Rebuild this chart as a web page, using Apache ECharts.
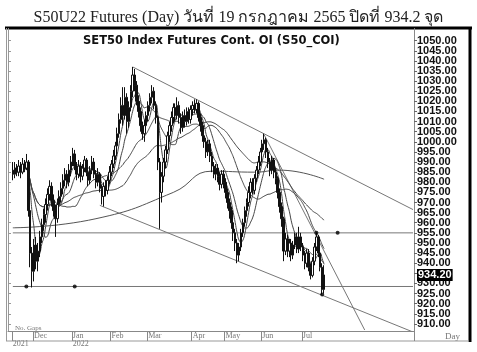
<!DOCTYPE html>
<html>
<head>
<meta charset="utf-8">
<script src="https://cdn.jsdelivr.net/npm/echarts@6/dist/echarts.min.js"></script>
<style>
html, body { margin: 0; padding: 0; background: #fff; }
#chart_main { width: 477px; height: 352px; }
</style>
</head>
<body>
<div id="chart_main"></div>
<script>
// trading months shown (first one is the partial Nov 2021)
var monthNames = ['', 'Dec', 'Jan', 'Feb', 'Mar', 'Apr', 'May', 'Jun', 'Jul'];
var monthYears = ['2021', '', '2022', '', '', '', '', '', ''];
var monthDays = [11, 20, 20, 19, 23, 17, 19, 21, 12];
var leadSlots = 2;
var tailSlots = 46;

// [open, close, low, high]
var ohlc = [
    [986,984,981,990],[984,987,982,990],[987,985,983,989],[985,988,983,991],[988,985,982,990],
    [985,989,984,992],[989,987,985,991],[987,990,986,994],[990,966,963,991],[966,945,938,968],
    [945,936,928,948],
    [936,949,931,952],[949,941,937,953],[941,946,936,950],[946,953,943,956],[953,959,950,962],
    [959,964,956,967],[964,969,960,972],[969,974,966,977],[974,978,971,981],[978,971,968,980],
    [971,966,963,974],[966,962,953,969],[962,969,960,972],[969,973,966,976],[973,977,970,980],
    [977,981,974,984],[981,984,978,987],[984,980,977,986],[980,986,978,989],[986,990,983,993],
    [990,994,988,997],[994,988,986,996],[988,984,981,990],[984,988,982,991],[988,983,980,990],
    [983,987,981,989],[987,991,985,993],[991,985,983,992],[985,981,978,987],[981,986,979,988],
    [986,990,984,993],[990,984,982,992],[984,980,977,986],[980,984,978,987],[984,977,975,985],
    [977,973,969,979],[973,978,968,980],[978,976,973,981],[976,981,974,983],[981,985,979,988],
    [985,989,983,991],[989,993,987,996],[993,998,991,1000],[998,1004,996,1007],[1004,1011,1002,1014],
    [1011,1018,1009,1022],[1018,1013,1008,1027],[1013,1022,1011,1027],[1022,1010,1004,1024],[1010,1017,1007,1020],
    [1017,1025,1015,1028],[1025,1033,1022,1037],[1033,1028,1025,1036],[1028,1020,1018,1030],[1020,1015,1012,1023],
    [1015,1008,1005,1017],[1008,1004,1001,1010],[1004,1008,1000,1011],[1008,1013,1006,1015],
    [1013,1018,1010,1020],[1018,1022,1015,1024],[1022,1025,1019,1028],[1025,1018,1016,1027],[1018,1012,1009,1020],
    [1012,990,986,1013],[990,975,957,992],[975,983,970,985],[983,990,980,992],[990,996,987,998],
    [996,1003,994,1005],[1003,1008,1000,1010],[1008,1012,1005,1015],[1012,1017,1009,1019],[1017,1013,1010,1019],
    [1013,1018,1011,1022],[1018,1012,1009,1020],[1012,1007,1004,1014],[1007,1013,1005,1015],[1013,1010,1007,1016],
    [1010,1015,1008,1017],[1015,1011,1009,1017],[1011,1016,1009,1018],
    [1016,1018,1013,1020],[1018,1016,1014,1021],[1016,1019,1014,1021],[1019,1012,1010,1020],[1012,1008,1005,1014],
    [1008,1003,1000,1010],[1003,1000,997,1006],[1000,995,992,1002],[995,999,993,1001],[999,993,990,1001],
    [993,988,985,995],[988,984,982,990],[984,987,981,989],[987,983,980,989],[983,979,976,985],
    [979,984,977,986],[984,980,977,986],
    [980,975,972,982],[975,970,967,977],[970,966,962,972],[966,960,957,968],[960,955,951,962],
    [955,950,946,957],[950,944,940,952],[944,948,941,950],[948,955,946,957],[955,960,953,962],
    [960,966,958,968],[966,970,963,972],[970,975,968,978],[975,980,972,982],[980,976,974,982],
    [976,982,974,984],[982,986,980,988],[986,990,984,993],[990,995,988,997],
    [995,999,993,1001],[999,1001,996,1004],[1001,995,992,1002],[995,990,987,997],[990,986,983,992],
    [986,991,984,993],[991,985,982,992],[985,982,979,987],[982,975,972,983],[975,968,965,977],
    [968,962,958,970],[962,946,941,963],[946,952,944,955],[952,946,943,954],[946,950,943,952],
    [950,944,941,952],[944,949,942,951],[949,953,947,955],[953,947,945,955],[947,953,945,958],
    [953,948,946,955],
    [948,944,941,950],[944,940,937,946],[940,945,938,947],[945,938,936,947],[938,934,932,940],
    [934,941,933,943],[941,948,939,950],[948,953,946,955],[953,945,943,954],[945,938,936,947],
    [938,927,924.5,940],[927,934.2,925,939]
];

var maPeriods = [5, 10, 25, 50];
// long average: [slot, value]
var longMa = [[2,957.5],[45,962],[85,975],[105,985.5],[127,985],[140,986],[163,981.5]];

// hand drawn lines: [[slot, value], [slot, value]]
var trendLines = [
    [[64,1037],[209,966.5]],
    [[47,968.6],[209,906]],
    [[132,1003.5],[184,907]],
    [[2,955],[209,955]],
    [[2,928.5],[209,928.5]]
];
var markDots = [[9,928.5],[34,928.5],[159,955],[170,955],[162,924.5]];

var tickValues = [910,915,920,925,930,935,940,945,950,955,960,965,970,975,980,985,990,995,1000,1005,1010,1015,1020,1025,1030,1035,1040,1045,1050];
// labels split in two sets so that neighbours never clash
var labelsTens = [910,920,930,940,950,960,970,980,990,1000,1010,1020,1030,1040,1050];
var labelsFives = [915,925,945,955,965,975,985,995,1005,1015,1025,1035,1045];
var lastClose = 934.2;

var categories = [];
var axisNames = [];
var i, m, d;
for (i = 0; i < leadSlots; i++) { categories.push('p' + i); axisNames.push(''); }
for (m = 0; m < monthDays.length; m++) {
    for (d = 0; d < monthDays[m]; d++) {
        categories.push('m' + m + 'd' + d);
        axisNames.push(d == 0 ? (monthNames[m] + '\n' + monthYears[m]) : '');
    }
}
for (i = 0; i < tailSlots; i++) { categories.push('f' + i); axisNames.push(''); }

var candleData = [];
for (i = 0; i < leadSlots; i++) candleData.push('-');
ohlc.forEach(function (r) { candleData.push(r); });

function movingAverage(n) {
    var out = [];
    for (var k = 0; k < leadSlots; k++) out.push('-');
    for (var j = 0; j < ohlc.length; j++) {
        var s = 0, c = 0;
        for (var q = Math.max(0, j - n + 1); q <= j; q++) { s += ohlc[q][1]; c++; }
        out.push(+(s / c).toFixed(2));
    }
    return out;
}

var series = [{
    type: 'candlestick',
    data: candleData,
    barWidth: 2,
    itemStyle: { color: '#fff', color0: '#111', borderColor: '#111', borderColor0: '#111', borderWidth: 1 },
    markLine: {
        silent: true,
        symbol: 'none',
        lineStyle: { width: 0, color: '#000' },
        data: [{ yAxis: lastClose }],
        label: {
            show: true, position: 'end', distance: 3, formatter: lastClose.toFixed(2),
            backgroundColor: '#000', color: '#fff', fontWeight: 'bold',
            fontFamily: 'Liberation Sans', fontSize: 11, padding: [1, 1, 0, 1]
        }
    },
    z: 3
}];
maPeriods.forEach(function (n) {
    series.push({
        type: 'line', data: movingAverage(n), symbol: 'none', smooth: true,
        lineStyle: { color: '#444', width: 1 }, z: 2
    });
});
series.push({
    type: 'line', data: longMa, symbol: 'none', smooth: true,
    lineStyle: { color: '#555', width: 1 }, z: 2
});
trendLines.forEach(function (l) {
    series.push({
        type: 'line', data: l, symbol: 'none',
        lineStyle: { color: '#777', width: 1 }, z: 1
    });
});
series.push({
    type: 'scatter', data: markDots, symbolSize: 4,
    itemStyle: { color: '#000' }, z: 4
});

var priceLabel = {
    margin: 3, showMinLabel: true, showMaxLabel: true,
    formatter: function (v) { return v.toFixed(2); },
    fontFamily: 'Liberation Sans', fontSize: 11, fontWeight: 'bold', color: '#111'
};

var myChart = echarts.init(document.getElementById('chart_main'));
var option = {
    animation: false,
    backgroundColor: '#fff',
    title: [{
        text: 'S50U22 Futures (Day) วันที่ 19 กรกฎาคม 2565 ปิดที่ 934.2 จุด',
        left: 'center', top: 5,
        textStyle: { fontFamily: 'Liberation Serif', fontSize: 16, fontWeight: 'normal', color: '#222' }
    }, {
        text: 'SET50 Index Futures Cont. OI (S50_COI)',
        left: 78, top: 30,
        textStyle: { fontFamily: 'DejaVu Sans', fontSize: 11.5, fontWeight: 'bold', color: '#111' }
    }, {
        text: 'No. Gaps',
        left: 10, top: 320,
        textStyle: { fontFamily: 'Liberation Serif', fontSize: 7, fontWeight: 'normal', color: '#777' }
    }, {
        text: 'Day',
        left: 440, top: 327,
        textStyle: { fontFamily: 'Liberation Serif', fontSize: 9, fontWeight: 'normal', color: '#777' }
    }],
    graphic: [
        { type: 'line', shape: { x1: 5, y1: 28, x2: 472, y2: 28 }, style: { stroke: '#000', lineWidth: 3 } },
        { type: 'line', shape: { x1: 470, y1: 28, x2: 470, y2: 342 }, style: { stroke: '#000', lineWidth: 3 } },
        { type: 'line', shape: { x1: 6, y1: 341, x2: 469, y2: 341 }, style: { stroke: '#999', lineWidth: 1 } },
        { type: 'line', shape: { x1: 6.5, y1: 28, x2: 6.5, y2: 341 }, style: { stroke: '#999', lineWidth: 1 } }
    ],
    grid: { left: 8, right: 63, top: 28.5, bottom: 21, containLabel: false },
    xAxis: {
        type: 'category',
        data: categories,
        boundaryGap: true,
        axisLine: { show: true, lineStyle: { color: '#888' } },
        axisTick: {
            show: true, length: 10, lineStyle: { color: '#888' },
            interval: function (idx) { return axisNames[idx] !== ''; }
        },
        axisLabel: {
            interval: function (idx) { return axisNames[idx] !== ''; },
            formatter: function (v, idx) { return axisNames[idx]; },
            align: 'left', margin: 1,
            fontFamily: 'Liberation Serif', fontSize: 8, lineHeight: 8, color: '#777'
        },
        splitLine: { show: false }
    },
    yAxis: [{
        type: 'value', position: 'right', offset: 0, min: 906.5, max: 1056, scale: true,
        axisLine: { show: true, lineStyle: { color: '#888' } },
        axisTick: { show: true, length: 3, customValues: tickValues, lineStyle: { color: '#666' } },
        axisLabel: Object.assign({ customValues: labelsTens }, priceLabel),
        splitLine: { show: false }
    }, {
        type: 'value', position: 'left', min: 906.5, max: 1056, scale: true,
        axisLine: { show: true, lineStyle: { color: '#999' } },
        axisTick: { show: true, inside: true, length: 3, customValues: tickValues, lineStyle: { color: '#999' } },
        axisLabel: { show: false },
        splitLine: { show: false }
    }, {
        type: 'value', position: 'right', offset: 0, min: 906.5, max: 1056, scale: true,
        axisLine: { show: false },
        axisTick: { show: false },
        axisLabel: Object.assign({ customValues: labelsFives }, priceLabel),
        splitLine: { show: false }
    }],
    series: series
};
myChart.setOption(option);
</script>
</body>
</html>
